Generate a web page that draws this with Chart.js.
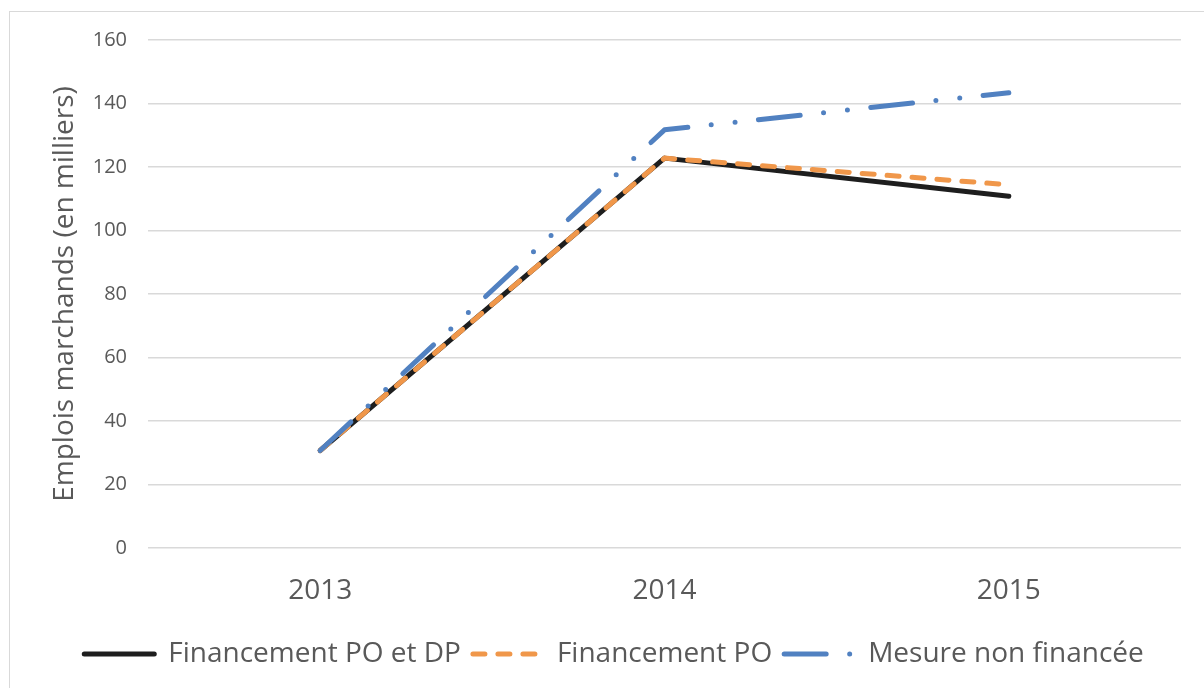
<!DOCTYPE html>
<html>
<head>
<meta charset="utf-8">
<script src="https://cdn.jsdelivr.net/npm/chart.js@4/dist/chart.umd.min.js"></script>
<style>
  html, body { margin: 0; padding: 0; background: #fff; }
  #frame { position: absolute; left: 9px; top: 11px; width: 1210px; height: 700px; border: 1px solid #d9d9d9; }
  #wrap { position: absolute; left: 0; top: 0; width: 1204px; height: 688px; }
</style>
</head>
<body>
<div id="frame"></div>
<div id="wrap"><canvas id="chart"></canvas></div>
<script>
// data
var years = ['2013', '2014', '2015'];
var financementPoDp = [30.7, 122.8, 110.8];
var financementPo = [30.7, 122.8, 114.4];
var mesureNonFinancee = [30.7, 131.7, 143.4];
var yTicks = [0, 20, 40, 60, 80, 100, 120, 140, 160];

var textColor = '#595959';
var gridColor = '#d9d9d9';
var fontName = "'Open Sans', sans-serif";

new Chart(document.getElementById('chart').getContext('2d'), {
    type: 'line',
    data: {
        labels: years,
        datasets: [{
            label: 'Financement PO et DP',
            data: financementPoDp,
            borderColor: '#1e1e1e',
            backgroundColor: '#1e1e1e',
            borderWidth: 5,
            borderCapStyle: 'round',
            borderJoinStyle: 'round',
            order: 3
        }, {
            label: 'Financement PO',
            data: financementPo,
            borderColor: '#f0974a',
            backgroundColor: '#f0974a',
            borderWidth: 5,
            borderDash: [12, 13],
            borderCapStyle: 'round',
            borderJoinStyle: 'round',
            order: 2
        }, {
            label: 'Mesure non financée',
            data: mesureNonFinancee,
            borderColor: '#5181c1',
            backgroundColor: '#5181c1',
            borderWidth: 5,
            borderDash: [42, 23.5, 0, 24, 0, 23.5],
            borderCapStyle: 'round',
            borderJoinStyle: 'round',
            order: 1
        }]
    },
    options: {
        responsive: true,
        maintainAspectRatio: false,
        animation: false,
        layout: { padding: { left: 47, right: 23, top: 40, bottom: 10 } },
        elements: { point: { radius: 0, hoverRadius: 0 }, line: { tension: 0 } },
        plugins: {
            tooltip: { enabled: false },
            legend: {
                position: 'bottom',
                labels: {
                    usePointStyle: true,
                    pointStyle: 'line',
                    pointStyleWidth: 70,
                    padding: 12,
                    color: textColor,
                    font: { family: fontName, size: 28 },
                    sort: function (a, b) { return a.datasetIndex - b.datasetIndex; },
                    generateLabels: function (chart) {
                        return chart.data.datasets.map(function (ds, i) {
                            return {
                                text: ds.label,
                                datasetIndex: i,
                                fillStyle: ds.borderColor,
                                strokeStyle: ds.borderColor,
                                fontColor: textColor,
                                lineWidth: ds.borderWidth,
                                lineDash: ds.borderDash || [],
                                lineCap: 'round',
                                pointStyle: 'line',
                                hidden: false
                            };
                        });
                    }
                }
            }
        },
        scales: {
            x: {
                offset: true,
                grid: { display: false },
                border: { display: false },
                ticks: { color: textColor, padding: 18, font: { family: fontName, size: 28 } },
                afterFit: function (scale) { scale.height = 80; }
            },
            y: {
                min: 0,
                max: 160,
                afterBuildTicks: function (scale) {
                    scale.ticks = yTicks.map(function (v) { return { value: v }; });
                },
                grid: { color: gridColor, lineWidth: 1.5, drawTicks: false },
                border: { display: false },
                ticks: { color: textColor, padding: 21, font: { family: fontName, size: 20 } },
                title: {
                    display: true,
                    text: 'Emplois marchands (en milliers)',
                    color: textColor,
                    padding: { top: 1, bottom: 0 },
                    font: { family: fontName, size: 28 }
                },
                afterFit: function (scale) { scale.width = 101; }
            }
        }
    }
});
</script>
</body>
</html>
